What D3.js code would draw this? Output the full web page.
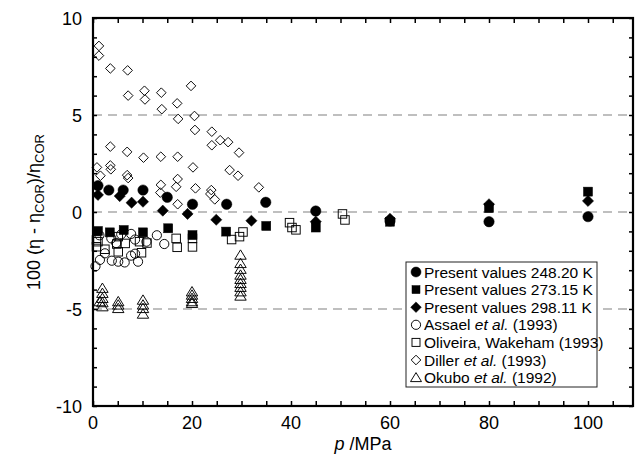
<!DOCTYPE html>
<html><head><meta charset="utf-8">
<script src="https://cdn.jsdelivr.net/npm/d3@7/dist/d3.min.js"></script>
<style>body{margin:0;background:#fff}svg{display:block}text{font-family:"Liberation Sans",Arial,sans-serif;fill:#000}</style>
</head><body><svg id="c" width="636" height="456"></svg>
<script>
// ---- data ----
const xTickLabels = [0, 20, 40, 60, 80, 100];
const yTickLabels = [-10, -5, 0, 5, 10];
const gridLevels = [5, 0, -5];

const p248 = [1, 3.2, 6.1, 10.1, 15, 20.1, 27, 34.9, 45, 60, 80, 100];
const v248 = [1.36, 1.13, 1.13, 1.13, 0.76, 0.4, 0.4, 0.5, 0.05, -0.46, -0.5, -0.24];

const p273 = [1, 3.4, 6.2, 10.1, 15.2, 20.1, 26.9, 35, 45, 60, 80, 100];
const v273 = [-0.98, -1.05, -0.93, -1.05, -0.84, -1.19, -1.01, -0.72, -0.8, -0.5, 0.2, 1.05];

const p298 = [1, 5.4, 7.8, 10.1, 14.1, 19.1, 24.9, 32, 45, 60, 80, 100];
const v298 = [0.88, 0.82, 0.48, 0.53, 0.07, -0.1, -0.4, -0.45, -0.5, -0.35, 0.4, 0.57];

const pAssael = [0.5, 1.4, 2.4, 3.8, 5.1, 6.4, 7.7, 8.5, 9.1, 3.7, 4.7, 5.7, 7.7, 8.5, 10.8, 12.9, 14.4, 1.3];
const vAssael = [-2.8, -2.47, -2.13, -2.51, -2.56, -2.6, -2.25, -2.15, -2.56, -1.36, -1.6, -1.15, -1.13, -1.42, -1.53, -1.2, -1.65, -1.2];

const pOliveira = [0.7, 0.7, 1, 2.4, 4.8, 5.1, 5.1, 6.5, 9.4, 9.8, 10.9, 16.8, 17, 20.1, 20.1, 28, 29.6, 30.3, 39.7, 40.2, 41, 50.4, 50.9];
const vOliveira = [-1.44, -1.79, -1.53, -1.92, -1.65, -1.27, -2.05, -1.62, -1.53, -2.1, -1.6, -1.36, -1.82, -1.36, -1.8, -1.42, -1.27, -1.03, -0.55, -0.8, -0.92, -0.1, -0.41];

const pDiller = [1.2, 1.2, 3.5, 7.0, 7.1, 10.4, 10.5, 13.8, 13.9, 17.0, 17.2, 19.8, 20.5, 20.6, 24.0, 24.0, 25.7, 27.3, 29.5, 20.2, 27.6, 29.3, 20.7, 23.9, 23.7, 24.6, 33.5, 3.5, 6.9, 10.2, 13.7, 17.1, 0.8, 3.5, 3.6, 1.5, 6.9, 7.1, 13.7, 17.1, 16.8, 13.6, 17.1];
const vDiller = [8.56, 8.06, 7.4, 7.3, 6.0, 6.25, 5.8, 6.15, 5.3, 5.6, 4.8, 6.5, 4.95, 4.23, 4.14, 3.44, 3.7, 3.6, 3.06, 2.3, 2.16, 1.87, 1.22, 1.13, 0.93, 0.65, 1.27, 3.37, 3.1, 2.8, 2.85, 2.85, 2.3, 2.4, 2.2, 1.87, 1.9, 1.75, 1.4, 1.7, 1.3, 1.0, 0.4];

const pOkubo = [1.9, 1.9, 1.9, 1.9, 1.9, 1.35, 5.1, 5.1, 5.1, 10.1, 10.1, 10.1, 10.1, 20, 20, 20, 20, 20, 29.8, 29.8, 29.8, 29.8, 29.8, 29.8, 29.8, 29.8, 29.8];
const vOkubo = [-3.93, -4.19, -4.45, -4.67, -4.88, -4.62, -4.62, -4.79, -4.97, -4.54, -4.79, -4.97, -5.26, -4.11, -4.28, -4.45, -4.62, -4.71, -2.22, -2.65, -2.95, -3.25, -3.47, -3.68, -3.88, -4.11, -4.33];

const legendLabels = [
  ["Present values 248.20 K"],
  ["Present values 273.15 K"],
  ["Present values 298.11 K"],
  ["Assael ", "et al.", " (1993)"],
  ["Oliveira, Wakeham (1993)"],
  ["Diller ", "et al.", " (1993)"],
  ["Okubo ", "et al.", " (1992)"]
];

// ---- chart ----
const svg = d3.select("#c");
const L = 93, R = 633, T = 18, B = 406;
const x = d3.scaleLinear().domain([0, 109]).range([L, L + 109 * 4.95]);
const y = d3.scaleLinear().domain([-10, 10]).range([B, T]);

// grid dashed lines
svg.append("g").selectAll("line").data(gridLevels).join("line")
  .attr("x1", L).attr("x2", R).attr("y1", d => y(d)).attr("y2", d => y(d))
  .attr("stroke", "#808080").attr("stroke-width", 1.2).attr("stroke-dasharray", "9,6");

// markers
const shapes = {
  circle: (g, r) => g.append("circle").attr("r", r),
  square: (g, s) => g.append("rect").attr("x", -s / 2).attr("y", -s / 2).attr("width", s).attr("height", s),
  diamond: (g, h) => g.append("path").attr("d", `M0,${-h}L${h},0L0,${h}L${-h},0Z`),
  triangle: (g, h) => g.append("path").attr("d", `M0,${-h}L${h * 1.1},${h * 0.8}L${-h * 1.1},${h * 0.8}Z`)
};
const series = [
  {p: pDiller, v: vDiller, shape: "diamond", size: 4.8, filled: false},
  {p: pAssael, v: vAssael, shape: "circle", size: 4.6, filled: false},
  {p: pOliveira, v: vOliveira, shape: "square", size: 8.5, filled: false},
  {p: pOkubo, v: vOkubo, shape: "triangle", size: 5.2, filled: false},
  {p: p273, v: v273, shape: "square", size: 9, filled: true},
  {p: p298, v: v298, shape: "diamond", size: 5.6, filled: true},
  {p: p248, v: v248, shape: "circle", size: 5.2, filled: true}
];
series.forEach(s => {
  const g = svg.append("g");
  s.p.forEach((pv, i) => {
    const m = g.append("g").attr("transform", `translate(${x(pv)},${y(s.v[i])})`);
    shapes[s.shape](m, s.size)
      .attr("fill", s.filled ? "#000" : "none")
      .attr("stroke", "#000").attr("stroke-width", s.filled ? 0.5 : 0.95);
  });
});

// axes frame with inward ticks
const xMinor = d3.range(0, 110, 5), yMinor = d3.range(-10, 10.01, 1);
const axB = svg.append("g").attr("transform", `translate(0,${B})`)
  .call(d3.axisBottom(x).tickValues(xMinor).tickSize(-5).tickFormat(""));
const axT = svg.append("g").attr("transform", `translate(0,${T})`)
  .call(d3.axisTop(x).tickValues(xMinor).tickSize(-5).tickFormat(""));
const axL = svg.append("g").attr("transform", `translate(${L},0)`)
  .call(d3.axisLeft(y).tickValues(yMinor).tickSize(-4).tickFormat(""));
const axR = svg.append("g").attr("transform", `translate(${R},0)`)
  .call(d3.axisRight(y).tickValues(yMinor).tickSize(-4).tickFormat(""));
[axB, axT, axL, axR].forEach(a => { a.select(".domain").remove(); a.selectAll("line").attr("stroke", "#000").attr("stroke-width", 1.5); });
svg.append("rect").attr("x", L).attr("y", T).attr("width", R - L).attr("height", B - T)
  .attr("fill", "none").attr("stroke", "#000").attr("stroke-width", 2.2);

// tick labels
svg.append("g").selectAll("text").data(xTickLabels).join("text")
  .attr("x", d => x(d)).attr("y", 429).attr("text-anchor", "middle")
  .attr("font-size", 18).text(d => d);
svg.append("g").selectAll("text").data(yTickLabels).join("text")
  .attr("x", 82).attr("y", d => y(d) + 6.5).attr("text-anchor", "end")
  .attr("font-size", 18).text(d => d);

// axis titles
const xt = svg.append("text").attr("x", (L + R) / 2).attr("y", 450).attr("text-anchor", "middle").attr("font-size", 18);
xt.append("tspan").attr("font-style", "italic").text("p");
xt.append("tspan").text(" /MPa");

const yt = svg.append("text").attr("transform", `translate(40,${(T + B) / 2}) rotate(-90)`)
  .attr("text-anchor", "middle").attr("font-size", 18);
yt.append("tspan").text("100 (η - η");
yt.append("tspan").attr("font-size", 13).attr("dy", 4).text("COR");
yt.append("tspan").attr("dy", -4).text(")/η");
yt.append("tspan").attr("font-size", 13).attr("dy", 4).text("COR");

// legend
const lg = svg.append("g");
lg.append("rect").attr("x", 406).attr("y", 262).attr("width", 191).attr("height", 125)
  .attr("fill", "#fff").attr("stroke", "#222").attr("stroke-width", 1);
const legendShapes = [
  ["circle", 5, true], ["square", 8, true], ["diamond", 5.3, true],
  ["circle", 4.6, false], ["square", 8, false], ["diamond", 4.8, false], ["triangle", 5, false]
];
legendLabels.forEach((parts, i) => {
  const cy = 272 + i * 17.6;
  const m = lg.append("g").attr("transform", `translate(416,${cy})`);
  const [sh, sz, f] = legendShapes[i];
  shapes[sh](m, sz).attr("fill", f ? "#000" : "none").attr("stroke", "#000").attr("stroke-width", f ? 0.5 : 0.95);
  const t = lg.append("text").attr("x", 424).attr("y", cy + 5.5).attr("font-size", 15.5);
  parts.forEach(s => t.append("tspan").attr("font-style", s === "et al." ? "italic" : null).text(s));
});
</script></body></html>
